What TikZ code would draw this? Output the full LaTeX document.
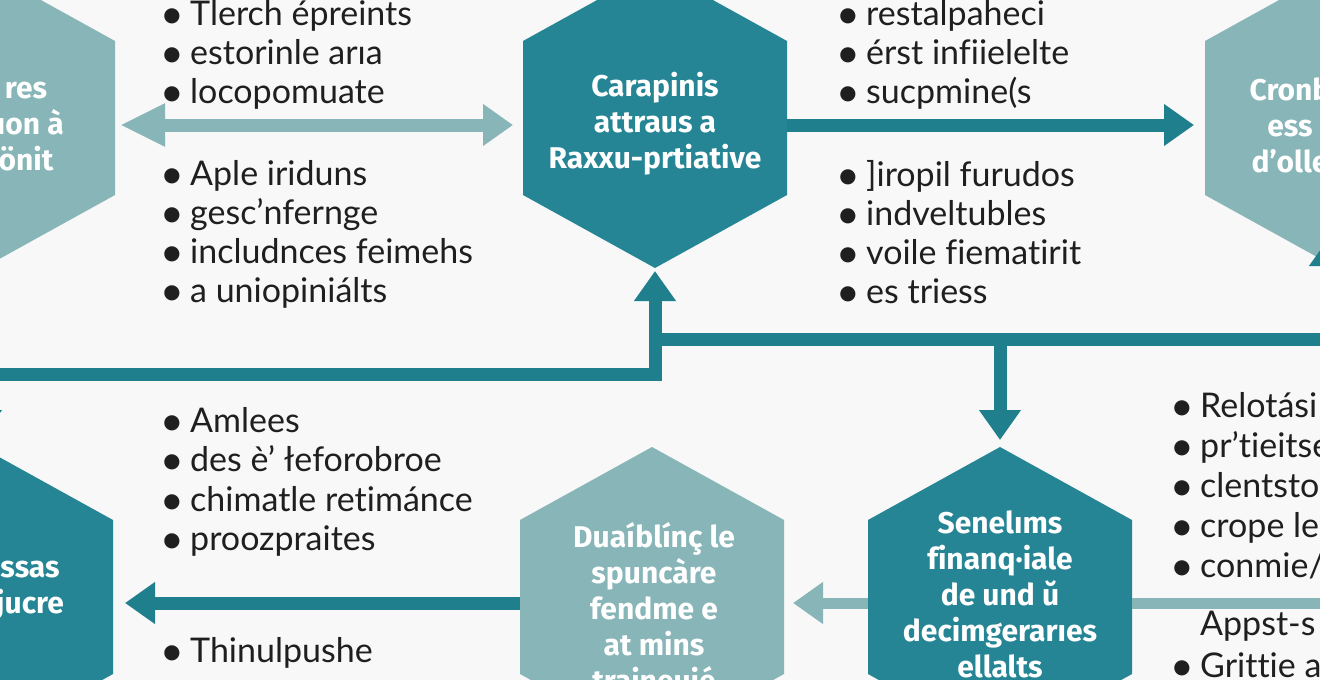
\documentclass[tikz,border=0pt]{standalone}
\usepackage{fontspec}
\setmainfont{Lato}[Ligatures={NoCommon}]
\newfontfamily\hexfont{Fira Sans}[Ligatures={NoCommon}]
\usetikzlibrary{arrows.meta}
\definecolor{bgc}{HTML}{F7F8F7}
\definecolor{tealD}{HTML}{258595}
\definecolor{tealA}{HTML}{1F7F8D}
\definecolor{tealL}{HTML}{88B5B8}
\definecolor{txt}{HTML}{1F1F1F}
\newcommand\hexpath[2]{\fill[#2] (#1.north) -- ([yshift=-73pt]#1.north east) -- ([yshift=73pt]#1.south east) -- (#1.south) -- ([yshift=73pt]#1.south west) -- ([yshift=-73pt]#1.north west) -- cycle;}
\newcommand\bul{\makebox[26pt][l]{\hspace{-4pt}\raisebox{-3pt}{\scalebox{1.2}{\textbullet}}}}
\newcommand\nobul{\makebox[26pt][l]{}}
\begin{document}
\begin{tikzpicture}[x=1pt,y=-1pt,
  >={Triangle[length=30pt,width=40pt]},
  hexbox/.style={minimum width=264pt,minimum height=300pt,inner sep=0pt,outer sep=0pt,draw=none},
  hextext/.style={font=\hexfont\bfseries\fontsize{30}{36}\selectfont,text=white,align=center,inner sep=0pt},
  bulline/.style={font=\fontsize{34}{39}\selectfont,text=txt,anchor=base west,inner sep=0pt},
  dline/.style={draw=tealA,line width=13pt},
  lline/.style={draw=tealL,line width=13pt}]
\useasboundingbox (0,0) rectangle (1320,680);
\clip (0,0) rectangle (1320,680);
\fill[bgc] (0,0) rectangle (1320,680);
% hexagons
\node[hexbox] (hL) at (-17,118) {};
\node[hexbox] (hC) at (655,118) {};
\node[hexbox] (hR) at (1337,118) {};
\node[hexbox] (hBL) at (-19,597) {};
\node[hexbox] (hBC) at (652,597) {};
\node[hexbox] (hBR) at (1000,597) {};
\hexpath{hL}{tealL}
\hexpath{hC}{tealD}
\hexpath{hR}{tealL}
\hexpath{hBL}{tealD}
\hexpath{hBC}{tealL}
\hexpath{hBR}{tealD}
% connectors
\coordinate (j1) at (655,374);
\coordinate (j2) at (655,339);
\coordinate (rc) at (1330,339);
\coordinate (rtip) at (1330,236);
\coordinate (rl) at (1330,603);
\draw[lline,{Triangle[length=45pt,width=40pt]}-{Triangle[length=30pt,width=40pt]},shorten <=5pt,shorten >=10pt] ([yshift=-7pt]hL.east) -- ([yshift=-7pt]hC.west);
\draw[dline,->,shorten >=11pt] ([yshift=-7pt]hC.east) -- ([yshift=-7pt]hR.west);
\draw[dline,<->,shorten <=7pt,shorten >=3pt] (hBL.north) -- (hBL.north |- j1) -- (j1) -- (hC.south);
\draw[dline,->] (j2) -- (rc) -- (rtip);
\draw[dline,->,shorten >=7pt] (hBR.north |- j2) -- (hBR.north);
\draw[lline,line width=11pt,->,shorten >=9pt] ([yshift=-6pt]hBR.west) -- ([yshift=-6pt]hBC.east);
\draw[lline,line width=11pt] ([yshift=-6pt]hBR.east) -- (rl);
\draw[dline,->,shorten >=12pt] ([yshift=-6pt]hBC.west) -- ([yshift=-6pt]hBL.east);
% hexagon texts
\node[hextext] (tL) at (26,127) {res\\uon à\\önit};
\node[hextext] (tC) at (655,124) {Carapinis\\attraus a\\Raxxu-prtiative};
\node[hextext] (tR) at (1290,125) {Cronb\\ess\\d’olle};
\node[hextext] (tBL) at (30,591) {ssas\\jucre};
\node[hextext] (tBC) at (654,607) {Duaíblínç le\\spuncàre\\fendme e\\at mins\\traineuié};
\node[hextext] (tBR) at (1000,594) {Senelıms\\finanq·iale\\de und ŭ\\decimgerarıes\\ellalts};
% bullet lists
\foreach \txt [count=\i] in {Tlerch épreints,estorinle arıa,locopomuate}
  \node[bulline] (la\i) at (164,{25+39.3*(\i-1)}) {\bul\txt};
\foreach \txt [count=\i] in {Aple iriduns,gesc’nfernge,includnces feimehs,a uniopiniálts}
  \node[bulline] (lb\i) at (164,{185+39.3*(\i-1)}) {\bul\txt};
\foreach \txt [count=\i] in {restalpaheci,érst infiielelte,sucpmine(s}
  \node[bulline] (lc\i) at (840,{25+39.3*(\i-1)}) {\bul\txt};
\foreach \txt [count=\i] in {]iropil furudos,indveltubles,voile fiematirit,es triess}
  \node[bulline] (ld\i) at (840,{186+39.3*(\i-1)}) {\bul\txt};
\foreach \txt [count=\i] in {Amlees,des è’ łeforobroe,chimatle retimánce,proozpraites}
  \node[bulline] (le\i) at (164,{432+39.5*(\i-1)}) {\bul\txt};
\node[bulline] (lf1) at (164,662) {\bul Thinulpushe};
\foreach \txt [count=\i] in {Relotási,pr’tieitse,clentsto,crope le}
  \node[bulline] (lg\i) at (1174,{417+40*(\i-1)}) {\bul\txt};
\node[bulline] (lg5) at (1174,577) {\bul conmie/};
\node[bulline] (lg6) at (1174,635) {\nobul Appst-s};
\node[bulline] (lg7) at (1174,677) {\bul Grittie a};
\end{tikzpicture}
\end{document}
